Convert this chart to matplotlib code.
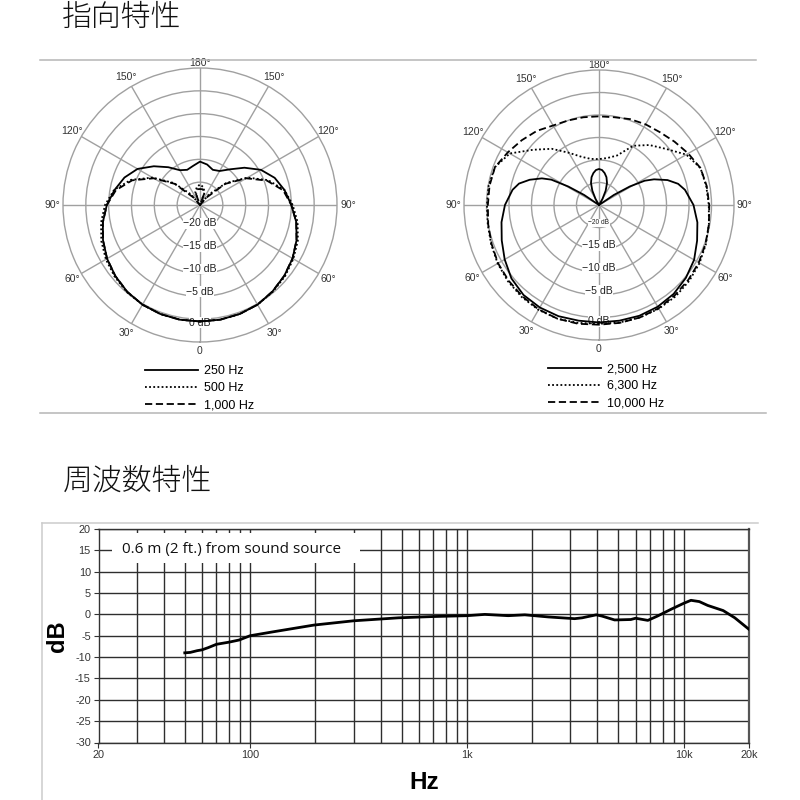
import numpy as np
import matplotlib.pyplot as plt
from matplotlib.lines import Line2D
from matplotlib.patches import Rectangle

plt.rcParams['font.family'] = ['Liberation Sans', 'DejaVu Sans']
plt.rcParams['axes.unicode_minus'] = False

# ---- polar data (angle from front, clockwise on screen: 0..180 left half, 180..360 right half)
ang10 = list(range(0, 361, 10))

db_250 = [0.5, 0.5, 0.4, 0.2, -0.2, -0.8, -1.5, -2.4, -3.4, -4.6, -6.0, -7.4, -9.2, -11.8, -14.2, -16.2, -16.8, -16.3,
          -15.5,
          -16.0, -16.8, -16.4, -14.8, -12.3, -9.6, -7.6, -6.2, -5.0, -3.6, -2.5, -1.6, -0.9, -0.3, 0.2, 0.4, 0.5, 0.5]
db_500 = [0.5, 0.5, 0.4, 0.2, -0.1, -0.6, -1.2, -2.0, -3.0, -4.2, -5.9, -8.9, -13.0, -17.5, -22.0, -25.0, -22.0, -21.0,
          -20.5,
          -21.0, -22.0, -25.0, -22.0, -17.5, -13.0, -9.1, -6.2, -4.7, -3.3, -2.2, -1.4, -0.7, -0.2, 0.2, 0.4, 0.5, 0.5]
db_1000 = [0.5, 0.5, 0.4, 0.2, -0.2, -0.8, -1.5, -2.4, -3.4, -4.6, -6.3, -9.2, -13.3, -17.8, -23.0, -25.0, -22.5, -21.5,
           -21.5,
           -21.5, -22.5, -25.0, -23.0, -17.8, -13.3, -9.4, -6.5, -5.0, -3.6, -2.5, -1.6, -0.9, -0.3, 0.2, 0.4, 0.5, 0.5]

ang_2500 = [0, 10, 20, 30, 40, 50, 60, 70, 80, 90, 100, 105, 110, 115, 118, 121, 124, 127, 145, 150, 155, 160, 165, 170,
            175, 180,
            185, 190, 195, 200, 205, 210, 215, 233, 236, 239, 242, 245, 250, 255, 260, 270, 280, 290, 300, 310, 320,
            330, 340, 350, 360]
db_2500 = [1.1, 1.1, 1.3, 1.3, 1.1, 0.4, -0.8, -2.0, -3.0, -4.1, -5.5, -6.6, -8.6, -11.0, -13.0, -17.0, -21.0, -25.0,
           -25.0, -23.5, -21.5, -19.8, -18.6, -17.8, -17.2, -17.0,
           -17.2, -17.8, -18.6, -19.8, -21.5, -23.5, -25.0, -25.0, -21.0, -17.0, -13.5, -11.5, -8.8, -6.8, -5.6,
           -4.0, -2.8, -1.8, -0.6, 0.2, 0.8, 1.1, 1.2, 1.1, 1.1]
db_6300 = [1.4, 1.6, 1.9, 1.9, 1.7, 1.4, 1.0, 0.5, 0.1, -0.1, -0.1, -0.4, -2.1, -5.9, -8.7, -11.6, -13.6, -14.6,
           -14.8,
           -14.4, -13.3, -9.8, -7.6, -5.6, -2.6, -1.0, -0.8, -0.6, -0.2, 0.3, 0.8, 1.2, 1.5, 1.6, 1.6, 1.5, 1.4]
db_10000 = [1.6, 1.8, 1.9, 1.8, 1.5, 1.2, 0.9, 0.4, 0.0, -0.3, -0.3, -0.4, -1.6, -2.6, -3.5, -4.6, -5.0, -5.2,
            -5.3,
            -5.2, -4.7, -4.3, -3.9, -3.1, -2.1, -1.0, -0.7, -0.5, -0.2, 0.2, 0.6, 0.9, 1.2, 1.5, 1.6, 1.6, 1.6]

# ---- frequency response
freq = [50, 53, 57, 60, 64, 70, 80, 89, 100, 127, 197, 300, 484, 700, 1000, 1210, 1550, 1850, 2380, 3140, 3400,
        3950, 4200, 4800, 5700, 6000, 6830, 7560, 8740, 10000, 10800, 11800, 12900, 15200, 17200, 20000]
resp = [-9.0, -8.9, -8.5, -8.3, -7.8, -7.0, -6.5, -6.0, -5.0, -4.1, -2.5, -1.5, -0.8, -0.5, -0.3, 0.0, -0.3, -0.1,
        -0.6, -1.0, -0.8, -0.1, -0.4, -1.3, -1.2, -0.9, -1.4, -0.4, 1.2, 2.6, 3.3, 3.0, 2.1, 0.9, -0.8, -3.5]

grid_gray = '#a0a0a0'
lw = 1.3
styles = [dict(ls='-'), dict(ls=(0, (1, 1.3))), dict(ls=(0, (4, 2)))]

fig = plt.figure(figsize=(8, 8), dpi=100)


def polar_panel(rect, series, labels, leg_xy, small20):
    ax = fig.add_axes(rect, projection='polar')
    ax.set_theta_zero_location('S')
    ax.set_theta_direction(-1)
    ax.set_ylim(-25, 5)
    ax.set_yticks([-20, -15, -10, -5, 0])
    ax.set_yticklabels([])
    ax.set_xticks(np.radians(np.arange(0, 360, 30)))
    ax.set_xticklabels([])
    ax.grid(True, color=grid_gray, lw=1.0)
    ax.spines['polar'].set_color(grid_gray)
    ax.spines['polar'].set_linewidth(1.0)
    ax.tick_params(length=0)

    handles = []
    for (a, d), st in zip(series, styles):
        h, = ax.plot(np.radians(a), d, color='black', lw=lw, zorder=4, **st)
        handles.append(h)

    for deg in range(0, 360, 30):
        lab_deg = deg if deg <= 180 else 360 - deg
        txt = '0' if deg == 0 else f'{lab_deg}°'
        r = 7.4
        if deg == 180:
            r = 6.1
        elif deg == 0:
            r = 7.0
        ax.text(np.radians(deg), r, txt, ha='center', va='center', fontsize=7.5, color='#333333')

    for v in [-20, -15, -10, -5, 0]:
        txt = '0 dB' if v == 0 else f'\u2212{abs(v)} dB'
        r = 0.8 if v == 0 else v - 1.0
        fs = 4.8 if (v == -20 and small20) else 7.6
        ax.text(0, r, txt, ha='center', va='center', fontsize=fs, color='#222222', zorder=3,
                bbox=dict(facecolor='white', edgecolor='none', pad=0.3))

    fig.legend(handles, labels, loc='upper left', bbox_to_anchor=leg_xy, bbox_transform=fig.transFigure,
               frameon=False, fontsize=9, handlelength=4.2, handletextpad=0.5, labelspacing=0.4,
               borderpad=0, borderaxespad=0)
    return ax


polar_panel([63 / 800, 1 - 342 / 800, 274 / 800, 274 / 800],
            [(ang10, db_250), (ang10, db_500), (ang10, db_1000)],
            ['250 Hz', '500 Hz', '1,000 Hz'], (145 / 800, 1 - 365 / 800), False)
polar_panel([464 / 800, 1 - 340 / 800, 270 / 800, 270 / 800],
            [(ang_2500, db_2500), (ang10, db_6300), (ang10, db_10000)],
            ['2,500 Hz', '6,300 Hz', '10,000 Hz'], (548 / 800, 1 - 363 / 800), True)

# ---- frequency response panel
ax2 = fig.add_axes([98.5 / 800, 1 - 742.5 / 800, 650.5 / 800, 213.5 / 800])
ax2.semilogx(freq, resp, color='black', lw=2.0, zorder=4)
ax2.set_xlim(20, 20000)
ax2.set_ylim(-30, 20)
ax2.set_xticks([20, 100, 1000, 10000, 20000])
ax2.set_xticklabels(['20', '100', '1k', '10k', '20k'])
minor = [f * m for m in (10, 100, 1000) for f in range(2, 10) if 20 < f * m < 20000]
minor = [m for m in minor if m not in (100, 1000, 10000)]
ax2.set_xticks(sorted(set(minor)), minor=True)
ax2.set_yticks(np.arange(-30, 21, 5))
ax2.grid(True, which='both', color='#2e2e2e', lw=1.0)
ax2.tick_params(which='minor', length=0)
ax2.tick_params(which='major', length=3.5, width=0.8, color='#333333', labelsize=7.8, labelcolor='#333333', pad=2)
for s in ax2.spines.values():
    s.set_color('#333333')
    s.set_linewidth(1.0)
ax2.spines['right'].set_color('#555555')
ax2.spines['right'].set_linewidth(1.6)
ax2.set_ylabel('dB', fontsize=17, fontweight='bold', labelpad=4)
ax2.set_xlabel('Hz', fontsize=17.5, fontweight='bold', labelpad=8)
ax2.add_patch(Rectangle((0.021, 0.841), 0.381, 0.14, transform=ax2.transAxes, facecolor='white',
                        edgecolor='none', zorder=2.6))
ax2.text(0.036, 0.906, '0.6 m (2 ft.) from sound source', transform=ax2.transAxes, va='center', ha='left',
         fontsize=11, family=['Open Sans', 'DejaVu Sans'], color='#111111', zorder=3)

# ---- titles and panel rules
fig.text(62 / 800, 1 - 18 / 800, '指向特性', fontsize=21.5, va='center', ha='left',
         family=['Noto Sans CJK JP', 'DejaVu Sans'], fontweight='light', color='#111111')
fig.text(63 / 800, 1 - 481 / 800, '周波数特性', fontsize=21.5, va='center', ha='left',
         family=['Noto Sans CJK JP', 'DejaVu Sans'], fontweight='light', color='#111111')
rule = '#b5b5b5'
fig.add_artist(Line2D([40 / 800, 756 / 800], [1 - 60.3 / 800] * 2, color=rule, lw=1.1))
fig.add_artist(Line2D([40 / 800, 766 / 800], [1 - 413 / 800] * 2, color=rule, lw=1.1))
fig.add_artist(Line2D([42 / 800, 758 / 800], [1 - 523 / 800] * 2, color='#cccccc', lw=1.1))
fig.add_artist(Line2D([42 / 800, 42 / 800], [1 - 523 / 800, 0], color='#cccccc', lw=1.1))

fig.savefig('out.png', dpi=100, facecolor='white')
